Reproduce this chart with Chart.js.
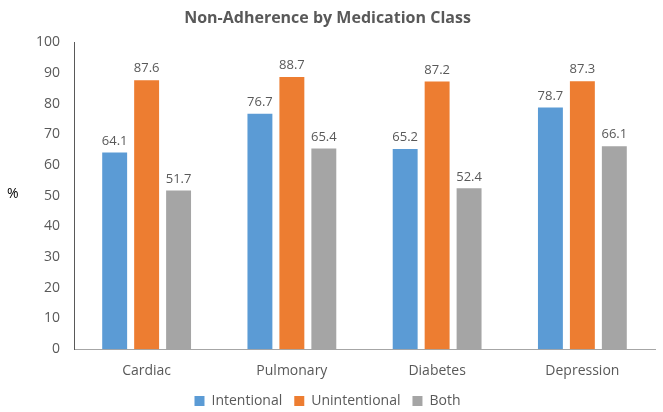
<!DOCTYPE html>
<html>
<head>
<meta charset="utf-8">
<script src="https://cdn.jsdelivr.net/npm/chart.js@4/dist/chart.umd.min.js"></script>
<style>
  html, body { margin: 0; padding: 0; background: #fff; }
  #wrap { width: 663px; height: 412px; }
</style>
</head>
<body>
<div id="wrap"><canvas id="myChart"></canvas></div>
<script>
// values
const categories = ['Cardiac', 'Pulmonary', 'Diabetes', 'Depression'];
const intentional = [64.1, 76.7, 65.2, 78.7];
const unintentional = [87.6, 88.7, 87.2, 87.3];
const both = [51.7, 65.4, 52.4, 66.1];

const txt = '#595959';
const fontFam = '"Open Sans", "Liberation Sans", sans-serif';

// labels above each bar
const barLabels = {
    id: 'barLabels',
    afterDatasetsDraw(chart) {
        const ctx = chart.ctx;
        ctx.save();
        ctx.font = '13px ' + fontFam;
        ctx.fillStyle = txt;
        ctx.textAlign = 'center';
        ctx.textBaseline = 'bottom';
        chart.data.datasets.forEach((ds, i) => {
            chart.getDatasetMeta(i).data.forEach((bar, j) => {
                ctx.fillText(ds.data[j].toFixed(1), bar.x, bar.y - 5);
            });
        });
        ctx.restore();
    }
};

// the horizontal "%" axis title
const pctLabel = {
    id: 'pctLabel',
    afterDraw(chart) {
        const ctx = chart.ctx;
        ctx.save();
        ctx.font = '14px ' + fontFam;
        ctx.fillStyle = '#000';
        ctx.textAlign = 'left';
        ctx.textBaseline = 'middle';
        ctx.fillText('%', 7, 194);
        ctx.restore();
    }
};

new Chart(document.getElementById('myChart'), {
    type: 'bar',
    data: {
        labels: categories,
        datasets: [
            { label: 'Intentional', data: intentional, backgroundColor: '#5b9bd5' },
            { label: 'Unintentional', data: unintentional, backgroundColor: '#ed7d31' },
            { label: 'Both', data: both, backgroundColor: '#a5a5a5' }
        ]
    },
    options: {
        responsive: true,
        maintainAspectRatio: false,
        animation: false,
        datasets: { bar: { categoryPercentage: 0.66, barPercentage: 0.78 } },
        layout: { padding: { left: 0, right: 8, top: 9, bottom: -6 } },
        plugins: {
            title: {
                display: true,
                text: 'Non-Adherence by Medication Class',
                color: txt,
                font: { family: fontFam, size: 16, weight: 'bold' },
                padding: { top: 0, bottom: 14 }
            },
            legend: {
                position: 'bottom',
                labels: {
                    color: txt,
                    font: { family: fontFam, size: 14 },
                    boxWidth: 10,
                    boxHeight: 10,
                    padding: 12
                }
            },
            tooltip: { enabled: false }
        },
        scales: {
            x: {
                grid: { display: false, drawTicks: false },
                border: { color: '#a6a6a6' },
                ticks: { color: txt, font: { family: fontFam, size: 14 }, padding: 13 },
                afterFit(scale) { scale.height = scale.height - 10; }
            },
            y: {
                min: 0,
                max: 100,
                grid: { display: false, drawTicks: false },
                border: { color: '#595959' },
                ticks: { stepSize: 10, color: txt, font: { family: fontFam, size: 14 }, padding: 14 },
                afterFit(scale) { scale.width = 74; }
            }
        }
    },
    plugins: [barLabels, pctLabel]
});
</script>
</body>
</html>
